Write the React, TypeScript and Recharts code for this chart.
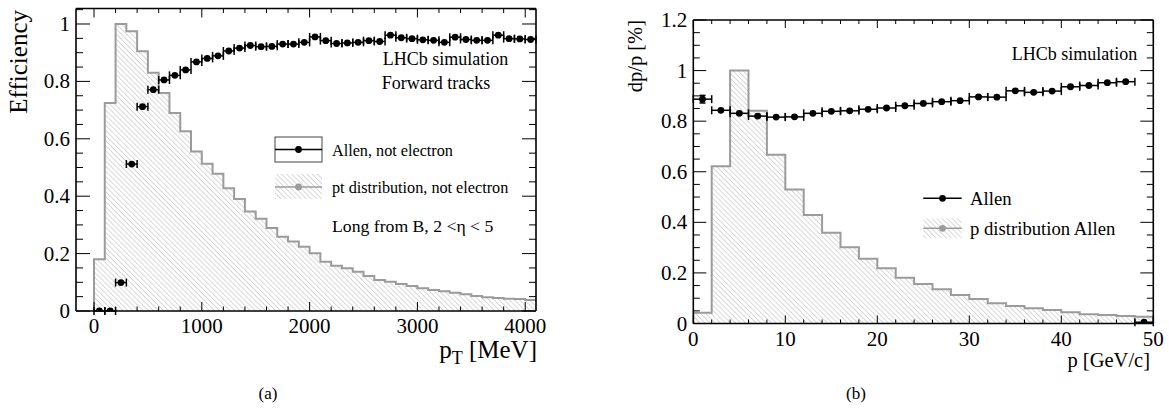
import React from 'react';
import { ComposedChart, Area, Scatter, XAxis, YAxis, ErrorBar } from 'recharts';

const FONT = '"Liberation Serif", "Times New Roman", serif';

// ---------- Panel (a): efficiency vs pT ----------
const ptBinWidth = 100; // MeV
const ptHist = [0.18, 0.725, 1.0, 0.975, 0.905, 0.83, 0.76, 0.69, 0.626, 0.556, 0.513, 0.478, 0.428, 0.39, 0.347, 0.321, 0.289, 0.259, 0.242, 0.224, 0.201, 0.172, 0.158, 0.149, 0.137, 0.122, 0.108, 0.102, 0.094, 0.087, 0.079, 0.073, 0.069, 0.064, 0.058, 0.052, 0.048, 0.045, 0.043, 0.042, 0.038];
const ptEff = [0.0, 0.0, 0.099, 0.512, 0.712, 0.771, 0.805, 0.821, 0.84, 0.868, 0.88, 0.889, 0.906, 0.916, 0.925, 0.921, 0.922, 0.93, 0.93, 0.936, 0.955, 0.942, 0.932, 0.934, 0.936, 0.942, 0.939, 0.961, 0.952, 0.949, 0.945, 0.943, 0.936, 0.954, 0.946, 0.943, 0.943, 0.961, 0.949, 0.948, 0.946];
const ptXTicks = [0, 200, 400, 600, 800, 1000, 1200, 1400, 1600, 1800, 2000, 2200, 2400, 2600, 2800, 3000, 3200, 3400, 3600, 3800, 4000];
const ptXMajor = [0, 1000, 2000, 3000, 4000];
const ptXLabels = ['0', '1000', '2000', '3000', '4000'];
const effYTicks = [0, 0.05, 0.1, 0.15, 0.2, 0.25, 0.3, 0.35, 0.4, 0.45, 0.5, 0.55, 0.6, 0.65, 0.7, 0.75, 0.8, 0.85, 0.9, 0.95, 1.0, 1.05];
const effYMajor = [0, 0.2, 0.4, 0.6, 0.8, 1.0];
const effYLabels = ['0', '0.2', '0.4', '0.6', '0.8', '1'];

// ---------- Panel (b): dp/p vs p ----------
const pBinWidth = 2; // GeV/c
const pHist = [0.043, 0.622, 1.0, 0.841, 0.667, 0.53, 0.429, 0.359, 0.301, 0.256, 0.218, 0.181, 0.156, 0.135, 0.113, 0.097, 0.08, 0.069, 0.06, 0.053, 0.044, 0.037, 0.034, 0.03, 0.027];
const pRes = [0.887, 0.843, 0.831, 0.82, 0.816, 0.817, 0.831, 0.839, 0.841, 0.847, 0.852, 0.861, 0.87, 0.877, 0.881, 0.896, 0.895, 0.92, 0.914, 0.919, 0.936, 0.941, 0.952, 0.956, 0.005];
const pResErr = [0.015, 0.004, 0.003, 0.003, 0.003, 0.003, 0.003, 0.003, 0.003, 0.003, 0.003, 0.003, 0.003, 0.003, 0.003, 0.003, 0.003, 0.003, 0.003, 0.003, 0.003, 0.003, 0.003, 0.003, 0.003];
const pXTicks = [0, 2, 4, 6, 8, 10, 12, 14, 16, 18, 20, 22, 24, 26, 28, 30, 32, 34, 36, 38, 40, 42, 44, 46, 48, 50];
const pXMajor = [0, 10, 20, 30, 40, 50];
const pXLabels = ['0', '10', '20', '30', '40', '50'];
const resYTicks = [0, 0.05, 0.1, 0.15, 0.2, 0.25, 0.3, 0.35, 0.4, 0.45, 0.5, 0.55, 0.6, 0.65, 0.7, 0.75, 0.8, 0.85, 0.9, 0.95, 1.0, 1.05, 1.1, 1.15, 1.2];
const resYMajor = [0, 0.2, 0.4, 0.6, 0.8, 1.0, 1.2];
const resYLabels = ['0', '0.2', '0.4', '0.6', '0.8', '1', '1.2'];

// tables built for the library
const histTable = (vals: number[], w: number) => {
  const rows = [{ x: 0, h: 0 }];
  vals.forEach((h, i) => rows.push({ x: i * w, h }));
  rows.push({ x: vals.length * w, h: vals[vals.length - 1] });
  return rows;
};
const pointTable = (vals: number[], w: number, ey?: number[]) =>
  vals.map((y, i) => ({ x: (i + 0.5) * w, y, ex: w / 2, ey: ey ? ey[i] : 0 }));

const ptHistData = histTable(ptHist, ptBinWidth);
const ptEffData = pointTable(ptEff, ptBinWidth);
const pHistData = histTable(pHist, pBinWidth);
const pResData = pointTable(pRes, pBinWidth, pResErr);

type Side = 'bottom' | 'top' | 'left' | 'right';
const makeTick = (side: Side, majors: number[], labels: string[] | null, majLen: number, minLen: number, fs: number) =>
  (props: any) => {
    const { x, y, payload } = props;
    const v = payload.value;
    const mi = majors.findIndex((m) => Math.abs(m - v) < 1e-6);
    const len = mi >= 0 ? majLen : minLen;
    let line: any = null;
    if (side === 'bottom') line = <line x1={x} x2={x} y1={y} y2={y - len} stroke="#000" strokeWidth={1} />;
    if (side === 'top') line = <line x1={x} x2={x} y1={y} y2={y + len} stroke="#000" strokeWidth={1} />;
    if (side === 'left') line = <line x1={x} x2={x + len} y1={y} y2={y} stroke="#000" strokeWidth={1} />;
    if (side === 'right') line = <line x1={x} x2={x - len} y1={y} y2={y} stroke="#000" strokeWidth={1} />;
    let label: any = null;
    if (labels && mi >= 0) {
      if (side === 'bottom')
        label = <text x={x} y={y + 22} textAnchor="middle" fontSize={fs} fontFamily={FONT} fill="#000">{labels[mi]}</text>;
      if (side === 'left')
        label = <text x={x - 6} y={y + 7} textAnchor="end" fontSize={fs} fontFamily={FONT} fill="#000">{labels[mi]}</text>;
    }
    return <g>{line}{label}</g>;
  };

const Dot = (p: any) => <circle cx={p.cx} cy={p.cy} r={3.4} fill="#000" />;
const AXL = { stroke: '#000', strokeWidth: 1.6 };

interface PanelProps {
  id: string;
  width: number;
  height: number;
  margin: { top: number; right: number; bottom: number; left: number };
  hist: any[];
  points: any[];
  xDomain: [number, number];
  yDomain: [number, number];
  xTicks: number[]; xMajor: number[]; xLabels: string[];
  yTicks: number[]; yMajor: number[]; yLabels: string[];
  xLen: [number, number]; yLen: [number, number];
  showYErr: boolean;
}

function Panel(p: PanelProps) {
  return (
    <ComposedChart width={p.width} height={p.height} data={p.hist} margin={p.margin}>
      <defs>
        <pattern id={p.id} width={3.6} height={3.6} patternUnits="userSpaceOnUse" patternTransform="rotate(-45)">
          <rect width={3.6} height={3.6} fill="#fff" />
          <line x1={0} y1={0} x2={0} y2={3.6} stroke="#a9a9a9" strokeWidth={0.9} />
        </pattern>
      </defs>
      <XAxis xAxisId="b" orientation="bottom" dataKey="x" type="number" domain={p.xDomain} allowDataOverflow ticks={p.xTicks} interval={0} height={1} tickSize={0} tickMargin={0} tickLine={false} axisLine={AXL} tick={makeTick('bottom', p.xMajor, p.xLabels, p.xLen[0], p.xLen[1], 21)} />
      <XAxis xAxisId="t" orientation="top" dataKey="x" type="number" domain={p.xDomain} allowDataOverflow ticks={p.xTicks} interval={0} height={1} tickSize={0} tickMargin={0} tickLine={false} axisLine={AXL} tick={makeTick('top', p.xMajor, null, p.xLen[0], p.xLen[1], 21)} />
      <YAxis yAxisId="l" orientation="left" type="number" domain={p.yDomain} allowDataOverflow ticks={p.yTicks} interval={0} width={1} tickSize={0} tickMargin={0} tickLine={false} axisLine={AXL} tick={makeTick('left', p.yMajor, p.yLabels, p.yLen[0], p.yLen[1], 21)} />
      <YAxis yAxisId="r" orientation="right" type="number" domain={p.yDomain} allowDataOverflow ticks={p.yTicks} interval={0} width={1} tickSize={0} tickMargin={0} tickLine={false} axisLine={AXL} tick={makeTick('right', p.yMajor, null, p.yLen[0], p.yLen[1], 21)} />
      <Area xAxisId="b" yAxisId="l" type="stepAfter" dataKey="h" stroke="#9b9b9b" strokeWidth={2} fill={`url(#${p.id})`} fillOpacity={1} dot={false} activeDot={false} isAnimationActive={false} />
      <Scatter xAxisId="b" yAxisId="l" data={p.points} dataKey="y" shape={Dot} isAnimationActive={false}>
        <ErrorBar dataKey="ex" direction="x" width={4} stroke="#000" strokeWidth={1.5} />
        {p.showYErr ? <ErrorBar dataKey="ey" direction="y" width={3} stroke="#000" strokeWidth={1.5} /> : null}
      </Scatter>
    </ComposedChart>
  );
}

function HatchDef({ id }: { id: string }) {
  return (
    <pattern id={id} width={3.6} height={3.6} patternUnits="userSpaceOnUse" patternTransform="rotate(-45)">
      <rect width={3.6} height={3.6} fill="#fff" />
      <line x1={0} y1={0} x2={0} y2={3.6} stroke="#a9a9a9" strokeWidth={0.9} />
    </pattern>
  );
}

function Overlay() {
  const t = { fontFamily: FONT, fill: '#000' } as any;
  return (
    <svg width={1169} height={411} style={{ position: 'absolute', left: 0, top: 0, pointerEvents: 'none' }}>
      <defs><HatchDef id="legHatch" /></defs>
      {/* Panel (a) titles */}
      <text {...t} fontSize={25} transform="translate(27,10) rotate(-90)" textAnchor="end">Efficiency</text>
      <text {...t} fontSize={25} x={537} y={358} textAnchor="end">p<tspan fontSize={18} dy={6}>T</tspan><tspan dy={-6}> [MeV]</tspan></text>
      <text {...t} fontSize={18} x={382.7} y={65}>LHCb simulation</text>
      <text {...t} fontSize={18} x={381.7} y={88.5}>Forward tracks</text>
      {/* legend (a) */}
      <rect x={275} y={137} width={47} height={25} fill="#fff" stroke="#444" strokeWidth={1} />
      <line x1={275} x2={322} y1={149.5} y2={149.5} stroke="#000" strokeWidth={1.5} />
      <circle cx={298.5} cy={149.5} r={3.4} fill="#000" />
      <text {...t} fontSize={16.2} x={332} y={155.5}>Allen, not electron</text>
      <rect x={275} y={174} width={47} height={25} fill="url(#legHatch)" />
      <line x1={275} x2={322} y1={187} y2={187} stroke="#9b9b9b" strokeWidth={1.5} />
      <circle cx={298.5} cy={187} r={3.4} fill="#9b9b9b" />
      <text {...t} fontSize={16.2} x={332} y={192.5}>pt distribution, not electron</text>
      <text {...t} fontSize={17.7} x={332} y={231.5}>Long from B, 2 &lt;η &lt; 5</text>
      {/* Panel (b) titles */}
      <text {...t} fontSize={20.5} transform="translate(642,20) rotate(-90)" textAnchor="end">dp/p [%]</text>
      <text {...t} fontSize={20.5} x={1150} y={367} textAnchor="end">p [GeV/c]</text>
      <text {...t} fontSize={18} x={1011.7} y={59.5}>LHCb simulation</text>
      {/* legend (b) */}
      <line x1={923.3} x2={961.7} y1={198.3} y2={198.3} stroke="#000" strokeWidth={1.5} />
      <circle cx={942.5} cy={198.3} r={3.4} fill="#000" />
      <text {...t} fontSize={18.7} x={970} y={205}>Allen</text>
      <rect x={923.3} y={218.3} width={38.4} height={20} fill="url(#legHatch)" />
      <line x1={923.3} x2={961.7} y1={228.3} y2={228.3} stroke="#9b9b9b" strokeWidth={1.5} />
      <circle cx={942.5} cy={228.3} r={3.4} fill="#9b9b9b" />
      <text {...t} fontSize={18.7} x={970} y={234.5}>p distribution Allen</text>
      {/* captions */}
      <text {...t} fontSize={17} x={268} y={399} textAnchor="middle">(a)</text>
      <text {...t} fontSize={17} x={856} y={399} textAnchor="middle">(b)</text>
    </svg>
  );
}

export default function App() {
  return (
    <div style={{ position: 'absolute', left: 0, top: 0, width: 1169, height: 411, background: '#fff', overflow: 'hidden' }}>
      <div style={{ position: 'absolute', left: 0, top: 0 }}>
        <Panel id="hatchA" width={560} height={411} margin={{ top: 7.5, right: 23, bottom: 99, left: 75 }}
          hist={ptHistData} points={ptEffData} xDomain={[-167, 4100]} yDomain={[0, 1.054]}
          xTicks={ptXTicks} xMajor={ptXMajor} xLabels={ptXLabels}
          yTicks={effYTicks} yMajor={effYMajor} yLabels={effYLabels}
          xLen={[9, 4.5]} yLen={[14, 7]} showYErr={false} />
      </div>
      <div style={{ position: 'absolute', left: 580, top: 0 }}>
        <Panel id="hatchB" width={589} height={411} margin={{ top: 19, right: 14.7, bottom: 86.5, left: 112.3 }}
          hist={pHistData} points={pResData} xDomain={[0, 50]} yDomain={[0, 1.2]}
          xTicks={pXTicks} xMajor={pXMajor} xLabels={pXLabels}
          yTicks={resYTicks} yMajor={resYMajor} yLabels={resYLabels}
          xLen={[8, 4]} yLen={[13, 6.5]} showYErr={true} />
      </div>
      <Overlay />
    </div>
  );
}
